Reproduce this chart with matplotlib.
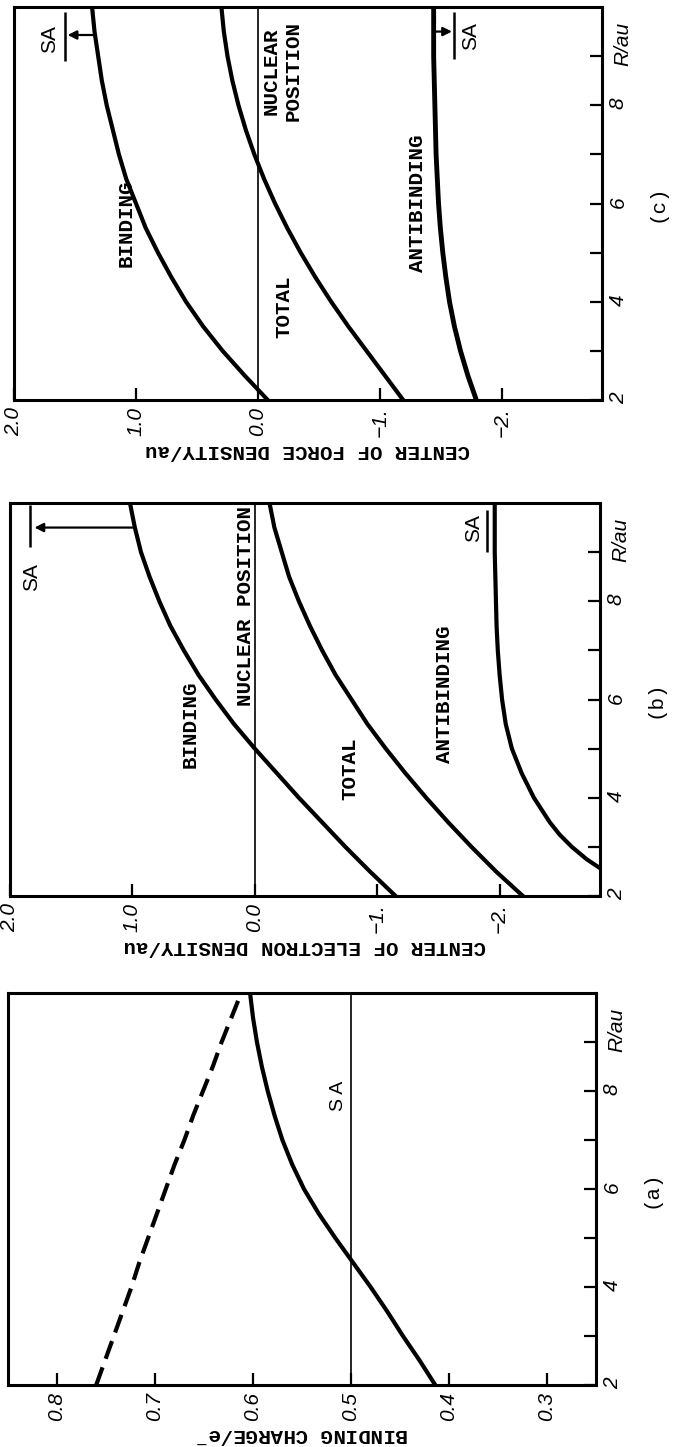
"""Binding charge and centres of electron / force density vs R (figure turned on its side)."""

import matplotlib.pyplot as plt

# ---- data -------------------------------------------------------------
R = [2.0, 2.5, 3.0, 3.5, 4.0, 4.5, 5.0, 5.5, 6.0, 6.5, 7.0, 7.5, 8.0, 8.5, 9.0, 9.5, 10.0]

# (a) binding charge / e-
charge_solid = [0.414, 0.430, 0.447, 0.463, 0.480, 0.498, 0.516, 0.533, 0.548, 0.560, 0.570,
                0.578, 0.585, 0.591, 0.596, 0.600, 0.603]
charge_dashed = [0.760, 0.751, 0.742, 0.733, 0.724, 0.716, 0.707, 0.698, 0.689, 0.680, 0.670,
                 0.661, 0.651, 0.641, 0.632, 0.622, 0.612]
charge_sa = 0.5

# (b) centre of electron density / au
R_b_anti = [2.5, 2.75, 3.0, 3.25, 3.5, 4.0, 4.5, 5.0, 5.5, 6.0, 6.5, 7.0, 7.5, 8.0, 8.5,
            9.0, 9.5, 10.0]
elec_binding = [-1.15, -0.94, -0.74, -0.55, -0.36, -0.18, 0.0, 0.17, 0.32, 0.46, 0.58, 0.69,
                0.78, 0.86, 0.93, 0.98, 1.02]
elec_total = [-2.19, -1.97, -1.77, -1.58, -1.40, -1.23, -1.07, -0.92, -0.79, -0.66, -0.55,
              -0.45, -0.36, -0.28, -0.22, -0.16, -0.12]
elec_anti = [-2.86, -2.71, -2.59, -2.49, -2.41, -2.28, -2.18, -2.10, -2.05, -2.02, -2.00,
             -1.985, -1.975, -1.97, -1.965, -1.96, -1.96, -1.96]

# (c) centre of force density / au
force_binding = [-0.08, 0.11, 0.29, 0.45, 0.59, 0.71, 0.82, 0.92, 1.00, 1.08, 1.14, 1.19,
                 1.24, 1.28, 1.31, 1.34, 1.36]
force_total = [-1.19, -1.04, -0.89, -0.74, -0.60, -0.47, -0.35, -0.24, -0.14, -0.05, 0.03,
               0.10, 0.16, 0.21, 0.25, 0.28, 0.30]
force_anti = [-1.79, -1.72, -1.66, -1.61, -1.57, -1.54, -1.515, -1.495, -1.48, -1.47, -1.46,
              -1.455, -1.45, -1.445, -1.44, -1.44, -1.44]

elec_ticks = [2.0, 1.0, 0.0, -1.0, -2.0]
elec_ticklabels = ["2.0", "1.0", "0.0", "\u22121.", "\u22122."]
charge_ticks = [0.8, 0.7, 0.6, 0.5, 0.4, 0.3]
charge_ticklabels = ["0.8", "0.7", "0.6", "0.5", "0.4", "0.3"]
r_ticks = [2, 4, 6, 8]
r_minor = [3, 5, 7, 9]

MONO = "Liberation Mono"
SANS = "Liberation Sans"

fig = plt.figure(figsize=(6.79, 14.47), dpi=100)
W, H = 679.0, 1447.0


def make_axes(x0, x1, y0, y1):
    return fig.add_axes([x0 / W, 1 - y1 / H, (x1 - x0) / W, (y1 - y0) / H])


def style_axes(ax, vlim, vticks, vlabels, ylabel, letter):
    ax.set_xlim(*vlim)
    ax.set_ylim(2, 10)
    for s in ax.spines.values():
        s.set_linewidth(2.2)
    ax.yaxis.tick_right()
    ax.set_yticks(r_ticks)
    ax.set_yticks(r_minor, minor=True)
    ax.set_yticklabels([str(t) for t in r_ticks])
    ax.set_xticks(vticks)
    ax.set_xticklabels(vlabels)
    ax.tick_params(axis="y", which="both", direction="in", length=9, width=1.6,
                   labelrotation=90, pad=5, labelsize=15)
    ax.tick_params(axis="x", direction="in", length=9, width=1.6,
                   labelrotation=90, pad=5, labelsize=15)
    for lbl in ax.get_xticklabels() + ax.get_yticklabels():
        lbl.set_fontstyle("italic")
        lbl.set_family(SANS)
    ax.set_xlabel(ylabel, rotation=180, family=MONO, fontsize=15, fontweight="bold",
                  labelpad=3)
    ax.text(1.035, 9.25, "R/au", transform=ax.get_yaxis_transform(), rotation=90,
            ha="center", va="center", fontsize=15, style="italic", family=SANS)
    ax.text(1.094, 6.0, f"({letter})", transform=ax.get_yaxis_transform(), rotation=90,
            ha="center", va="center", fontsize=15, family=MONO)


def label(ax, v, r, s):
    ax.text(v, r, s, rotation=90, ha="center", va="center", family=MONO, fontsize=15,
            fontweight="bold")


def sa_mark(ax, v, r0, r1):
    ax.plot([v, v], [r0, r1], color="k", lw=1.8, solid_capstyle="butt")


def sa_text(ax, v, r):
    ax.text(v, r, "SA", rotation=90, ha="center", va="center", family=SANS, fontsize=15)


def arrow(ax, v_tail, v_head, r):
    ax.annotate("", xy=(v_head, r), xytext=(v_tail, r),
                arrowprops=dict(arrowstyle="-|>", color="k", lw=1.6, mutation_scale=13,
                                shrinkA=0, shrinkB=0))


# ---- (c) top ----------------------------------------------------------
ax_c = make_axes(14, 602, 7, 400)
style_axes(ax_c, (2.0, -2.82), elec_ticks, elec_ticklabels,
           "CENTER OF FORCE DENSITY/au", "c")
ax_c.axvline(0.0, color="k", lw=1.2)
ax_c.plot(force_binding, R, color="k", lw=3.0)
ax_c.plot(force_total, R, color="k", lw=3.0)
ax_c.plot(force_anti, R, color="k", lw=3.5)
label(ax_c, 1.08, 5.6, "BINDING")
label(ax_c, -0.21, 3.9, "TOTAL")
label(ax_c, -0.2, 8.7, "NUCLEAR\nPOSITION")
label(ax_c, -1.31, 6.0, "ANTIBINDING")
sa_mark(ax_c, 1.58, 8.9, 9.9)
sa_text(ax_c, 1.71, 9.35)
arrow(ax_c, 1.33, 1.56, 9.43)
sa_mark(ax_c, -1.61, 8.95, 9.9)
sa_text(ax_c, -1.74, 9.4)
arrow(ax_c, -1.45, -1.59, 9.5)

# ---- (b) middle -------------------------------------------------------
ax_b = make_axes(10, 600, 503, 896)
style_axes(ax_b, (2.0, -2.82), elec_ticks, elec_ticklabels,
           "CENTER OF ELECTRON DENSITY/au", "b")
ax_b.axvline(0.0, color="k", lw=1.2)
ax_b.plot(elec_binding, R, color="k", lw=3.0)
ax_b.plot(elec_total, R, color="k", lw=3.0)
ax_b.plot(elec_anti, R_b_anti, color="k", lw=3.0)
label(ax_b, 0.53, 5.5, "BINDING")
label(ax_b, -0.78, 4.6, "TOTAL")
label(ax_b, 0.08, 7.9, "NUCLEAR POSITION")
label(ax_b, -1.55, 6.1, "ANTIBINDING")
sa_mark(ax_b, 1.84, 9.1, 9.95)
sa_text(ax_b, 1.82, 8.5)
arrow(ax_b, 1.0, 1.80, 9.5)
sa_mark(ax_b, -1.90, 9.0, 9.85)
sa_text(ax_b, -1.79, 9.5)

# ---- (a) bottom -------------------------------------------------------
ax_a = make_axes(8, 596, 993, 1385)
style_axes(ax_a, (0.85, 0.25), charge_ticks, charge_ticklabels,
           "BINDING CHARGE/e$^{-}$", "a")
ax_a.axvline(charge_sa, color="k", lw=1.2)
ax_a.plot(charge_solid, R, color="k", lw=3.0)
ax_a.plot(charge_dashed, R, color="k", lw=3.0, dashes=(4.5, 2.2))
ax_a.text(0.513, 7.9, "S A", rotation=90, ha="center", va="center", family=SANS, fontsize=14)

fig.savefig("out.png", dpi=100)
